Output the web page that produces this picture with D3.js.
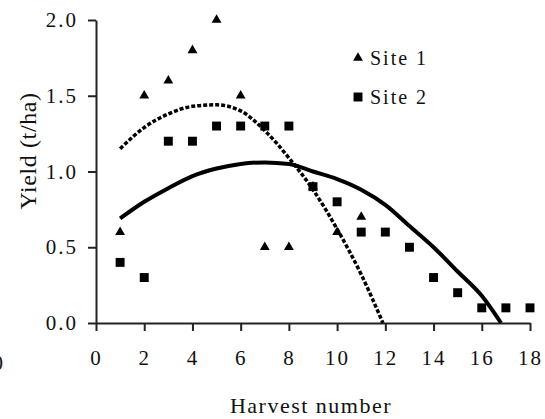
<!DOCTYPE html>
<html>
<head>
<meta charset="utf-8">
<script src="https://cdn.jsdelivr.net/npm/d3@7"></script>
<style>
  body { margin: 0; background: #fff; }
  svg { display: block; }
  text { font-family: "Times New Roman", "Liberation Serif", Times, "DejaVu Serif", serif; fill: #111; }
</style>
</head>
<body>
<svg class="chart"></svg>
<script>
// Data
var site1X = [1, 2, 3, 4, 5, 6, 7, 8, 9, 10, 11];
var site1Y = [0.6, 1.5, 1.6, 1.8, 2.0, 1.5, 0.5, 0.5, 0.9, 0.6, 0.7];
var site2X = [1, 2, 3, 4, 5, 6, 7, 8, 9, 10, 11, 12, 13, 14, 15, 16, 17, 18];
var site2Y = [0.4, 0.3, 1.2, 1.2, 1.3, 1.3, 1.3, 1.3, 0.9, 0.8, 0.6, 0.6, 0.5, 0.3, 0.2, 0.1, 0.1, 0.1];

// trend lines
var trend1X = [1, 2, 3, 4, 5, 6, 7, 8, 9, 10, 11, 11.9];
var trend1Y = [1.15, 1.29, 1.38, 1.43, 1.44, 1.40, 1.27, 1.09, 0.88, 0.62, 0.32, 0];
var trend2X = [1, 2, 3, 4, 5, 6, 7, 8, 9, 10, 11, 12, 13, 14, 15, 16, 16.8];
var trend2Y = [0.69, 0.80, 0.89, 0.97, 1.02, 1.05, 1.06, 1.05, 1.00, 0.95, 0.88, 0.78, 0.64, 0.50, 0.34, 0.18, 0];

var xTicks = [0, 2, 4, 6, 8, 10, 12, 14, 16, 18];
var yTicks = [0, 0.5, 1.0, 1.5, 2.0];
var seriesNames = ["Site 1", "Site 2"];

var width = 545, height = 419;
var margin = {top: 20, right: 15, bottom: 96, left: 96};
var serif = "'Times New Roman', 'Liberation Serif', serif";

var svg = d3.select(".chart").attr("width", width).attr("height", height);

var xScale = d3.scaleLinear().domain([0, 18]).range([margin.left, width - margin.right]);
var yScale = d3.scaleLinear().domain([0, 2]).range([height - margin.bottom, margin.top]);

// Axes
var xAxis = d3.axisBottom(xScale).tickValues(xTicks).tickSize(8).tickSizeOuter(0).tickPadding(10)
  .tickFormat(d3.format("d"));
var yAxis = d3.axisLeft(yScale).tickValues(yTicks).tickSize(8).tickSizeOuter(0).tickPadding(10)
  .tickFormat(d3.format(".1f"));

var gx = svg.append("g").attr("class", "x-axis")
  .attr("transform", "translate(0," + yScale(0) + ")")
  .call(xAxis);
var gy = svg.append("g").attr("class", "y-axis")
  .attr("transform", "translate(" + xScale(0) + ",0)")
  .call(yAxis);

[gx, gy].forEach(function(g) {
  g.attr("font-family", serif);
  g.select(".domain").attr("stroke", "#222").attr("stroke-width", 2);
  g.selectAll(".tick line").attr("stroke", "#222").attr("stroke-width", 2);
  g.selectAll(".tick text")
    .attr("font-size", 21)
    .attr("letter-spacing", 2)
    .attr("fill", "#111");
});
gx.selectAll(".tick text").attr("dy", "1.15em");

// clipped label peeking in at the left edge
svg.append("text")
  .attr("x", 3).attr("y", 370)
  .attr("text-anchor", "end")
  .attr("font-size", 21)
  .text("0");

// Axis titles
svg.append("text")
  .attr("class", "x-axis-label")
  .attr("x", 311).attr("y", 413)
  .attr("text-anchor", "middle")
  .attr("font-size", 22)
  .attr("letter-spacing", 1.5)
  .text("Harvest number");

svg.append("text")
  .attr("class", "y-axis-label")
  .attr("transform", "translate(36,151) rotate(-90)")
  .attr("text-anchor", "middle")
  .attr("font-size", 24)
  .attr("letter-spacing", 0.6)
  .text("Yield (t/ha)");

// Trend lines
var line = d3.line()
  .x(function(d) { return xScale(d[0]); })
  .y(function(d) { return yScale(d[1]); })
  .curve(d3.curveMonotoneX);

svg.append("path")
  .datum(d3.zip(trend1X, trend1Y))
  .attr("fill", "none")
  .attr("stroke", "#000")
  .attr("stroke-width", 3.5)
  .attr("stroke-dasharray", "4,2")
  .attr("d", line);

svg.append("path")
  .datum(d3.zip(trend2X, trend2Y))
  .attr("fill", "none")
  .attr("stroke", "#000")
  .attr("stroke-width", 4)
  .attr("d", line);

// Markers
var tri = d3.symbol().type(d3.symbolTriangle).size(42);
var sq = d3.symbol().type(d3.symbolSquare).size(80);

svg.append("g").selectAll("path")
  .data(d3.zip(site1X, site1Y))
  .join("path")
  .attr("d", tri)
  .attr("fill", "#000")
  .attr("transform", function(d) { return "translate(" + xScale(d[0]) + "," + yScale(d[1]) + ")"; });

svg.append("g").selectAll("path")
  .data(d3.zip(site2X, site2Y))
  .join("path")
  .attr("d", sq)
  .attr("fill", "#000")
  .attr("transform", function(d) { return "translate(" + xScale(d[0]) + "," + yScale(d[1]) + ")"; });

// Legend
var legend = svg.append("g").attr("class", "legend");
var legendItems = legend.selectAll("g")
  .data(seriesNames)
  .join("g")
  .attr("transform", function(d, i) { return "translate(358," + (58 + i * 39) + ")"; });

legendItems.append("path")
  .attr("d", function(d, i) { return i === 0 ? tri() : sq(); })
  .attr("fill", "#000");

legendItems.append("text")
  .attr("x", 12).attr("y", 7)
  .attr("font-size", 20)
  .attr("letter-spacing", 2)
  .text(function(d) { return d; });
</script>
</body>
</html>
